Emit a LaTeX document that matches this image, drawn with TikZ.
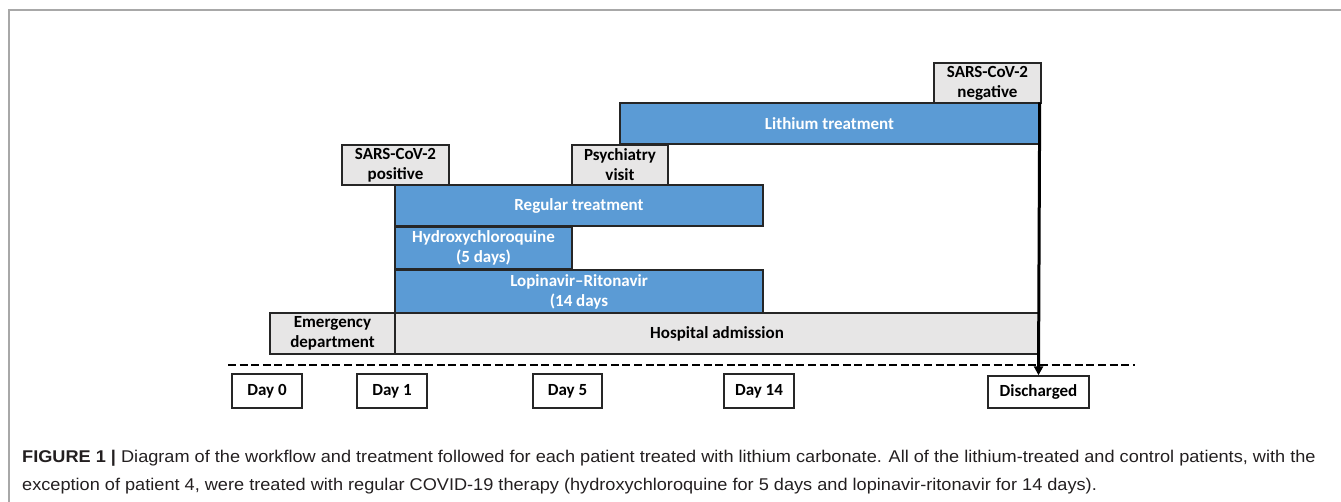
\documentclass[tikz,border=0pt]{standalone}
\usepackage{fontspec}
\setmainfont{Carlito}
\newfontfamily\capfont{Liberation Sans}
\usetikzlibrary{arrows.meta}
\definecolor{boxblue}{HTML}{5B9BD5}
\definecolor{boxgray}{HTML}{E7E6E6}
\definecolor{frameg}{HTML}{A8A8A8}
\definecolor{edge}{HTML}{262626}
\definecolor{captxt}{HTML}{231F20}
\tikzset{
  bx/.style={draw=edge, line width=1.4pt, inner sep=0pt, align=center,
    font=\fontsize{17}{20}\selectfont\bfseries},
  bluebox/.style={bx, fill=boxblue, text=white},
  graybox/.style={bx, fill=boxgray, text=black},
  daybox/.style={bx, fill=white, text=black},
  captext/.style={anchor=base west, inner sep=0pt, text=captxt, xscale=1.068,
    font=\capfont\fontsize{17}{20}\selectfont},
}
\newcommand{\bxat}[7]{% name, style, x1, y1, x2, y2, text
  \node[#2, minimum width={#5-#3}, minimum height={#6-#4}] (#1) at ({(#3+#5)/2},{(#4+#6)/2}) {#7};}
\begin{document}
\begin{tikzpicture}[x=1pt,y=-1pt]
\useasboundingbox (0,0) rectangle (1341,502);
% frame
\draw[frameg, line width=1.5pt] (9,502) -- (9,10) -- (1341,10);
% boxes
\bxat{neg}{graybox}{934}{63}{1041}{103}{SARS-CoV-2\\negative}
\bxat{lith}{bluebox}{620}{103}{1039}{144}{Lithium treatment}
\bxat{pos}{graybox}{342}{145}{449}{185}{SARS-CoV-2\\positive}
\bxat{psy}{graybox}{572}{145}{668}{185}{Psychiatry\\visit}
\bxat{reg}{bluebox}{395}{185}{763}{226}{Regular treatment}
\bxat{hcq}{bluebox}{395}{227}{572}{269}{Hydroxychloroquine\\(5 days)}
\bxat{lop}{bluebox}{395}{270}{763}{313}{Lopinavir--Ritonavir\\(14 days}
\bxat{emer}{graybox}{270}{313}{395}{354}{Emergency\\department}
\bxat{hosp}{graybox}{395}{313}{1039}{354}{Hospital admission}
% dashed timeline
\coordinate (tl) at (228,365);
\coordinate (tr) at (1135,365);
\draw[black, line width=2.8pt, dash pattern=on 8pt off 3.6pt] (tl) -- (tr);
% day boxes
\bxat{d0}{daybox}{232}{374}{302}{408}{Day 0}
\bxat{d1}{daybox}{357}{374}{427}{408}{Day 1}
\bxat{d5}{daybox}{533}{374}{602}{408}{Day 5}
\bxat{d14}{daybox}{724}{374}{794}{408}{Day 14}
\bxat{dis}{daybox}{988}{376}{1089}{408}{Discharged}
% arrow
\draw[black, line width=3pt, -{Triangle[length=9pt,width=9pt]}] (lith.north east) -- (dis.north);
% caption
\node[captext] (cap1) at (22,462)
  {\textbf{FIGURE 1 |} Diagram of the workflow and treatment followed for each patient treated with lithium carbonate. All of the lithium-treated and control patients, with the};
\node[captext] (cap2) at (22,490)
  {exception of patient 4, were treated with regular COVID-19 therapy (hydroxychloroquine for 5 days and lopinavir-ritonavir for 14 days).};
\end{tikzpicture}
\end{document}
